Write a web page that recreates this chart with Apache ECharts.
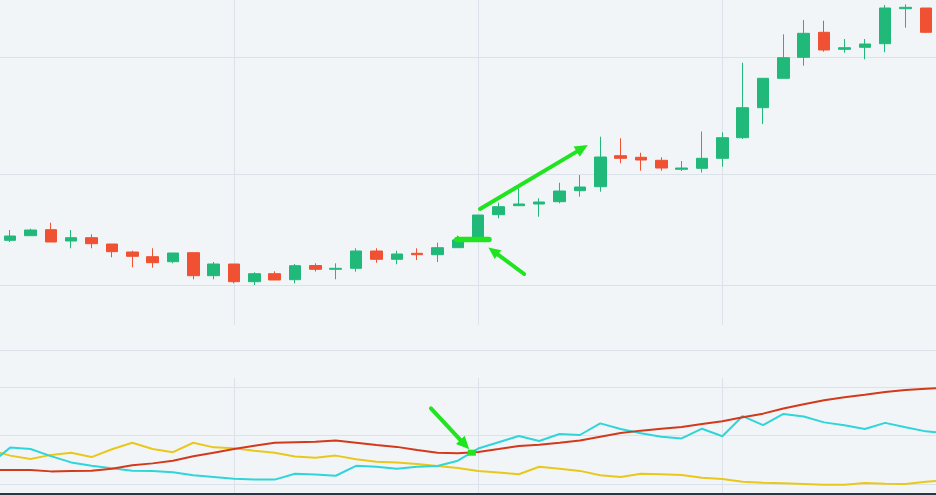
<!DOCTYPE html>
<html>
<head>
<meta charset="utf-8">
<script src="https://cdn.jsdelivr.net/npm/echarts@6.0.0/dist/echarts.min.js"></script>
<style>
html,body{margin:0;padding:0;background:#f2f5f8;}
#main{width:936px;height:495px;}
</style>
</head>
<body>
<div id="main"></div>
<script>
const days = Array.from({length: 46}, (_, i) => 'D' + (i + 1))

const opens  = [28.47, 28.93, 29.53, 28.4, 28.73, 28.1, 27.3, 26.83, 26.33, 27.23, 24.93, 26.1, 24.33, 25.13, 24.53, 25.95, 25.57, 25.67, 27.4, 26.57, 27.17, 27.03, 27.73, 28.4, 31.03, 31.93, 32.1, 32.33, 33.43, 33.83, 36.93, 36.77, 36.47, 35.57, 35.67, 36.67, 38.73, 41.73, 44.67, 46.77, 49.27, 47.57, 47.77, 48.13, 51.63, 51.7]
const closes = [28.9, 29.5, 28.3, 28.73, 28.13, 27.33, 26.87, 26.23, 27.2, 24.93, 26.1, 24.33, 25.13, 24.5, 25.93, 25.57, 25.67, 27.4, 26.57, 27.1, 27.03, 27.73, 28.5, 31.0, 31.83, 32.1, 32.3, 33.4, 33.8, 36.8, 36.67, 36.5, 35.7, 35.7, 36.67, 38.73, 41.73, 44.67, 46.73, 49.17, 47.5, 47.73, 48.1, 51.7, 51.77, 49.27]
const lows   = [28.3, 28.93, 28.3, 27.67, 27.67, 26.77, 25.77, 25.73, 26.17, 24.57, 24.57, 24.17, 24.0, 24.5, 24.17, 25.35, 24.57, 25.33, 26.23, 26.07, 26.5, 26.3, 27.73, 28.3, 30.67, 31.93, 30.83, 32.17, 32.83, 33.33, 36.17, 35.43, 35.43, 35.4, 35.25, 35.83, 38.6, 40.1, 44.67, 45.93, 47.33, 47.23, 46.57, 47.27, 49.73, 49.2]
const highs  = [29.5, 29.63, 30.23, 29.5, 29.07, 28.1, 27.43, 27.67, 27.2, 27.23, 26.3, 26.1, 25.27, 25.37, 26.1, 26.17, 26.17, 27.67, 27.67, 27.43, 27.67, 28.23, 28.93, 31.0, 32.23, 33.67, 32.67, 34.23, 35.0, 38.83, 38.67, 37.23, 36.77, 36.4, 39.35, 39.27, 46.23, 44.67, 49.07, 50.5, 50.43, 48.6, 48.6, 52.0, 52.07, 51.7]

// indicator panel: one extra point on each side (bar -1 and bar 46) so lines run to the edges
const indX = Array.from({length: 48}, (_, i) => i - 1)
const adx = [15.8, 15.8, 15.8, 15.2, 15.4, 15.5, 16.3, 17.7, 18.5, 19.6, 21.4, 22.9, 24.4, 25.8, 27.0, 27.2, 27.4, 27.9, 27.0, 26.1, 25.3, 24.0, 22.9, 22.7, 23.2, 24.4, 25.7, 26.2, 27.0, 27.9, 29.5, 31.0, 32.0, 32.8, 33.5, 34.7, 35.9, 37.5, 39.0, 41.1, 42.9, 44.5, 45.8, 46.8, 47.9, 48.8, 49.3, 49.6]
const pdi = [18.2, 25.0, 24.4, 21.5, 18.9, 17.5, 16.5, 15.5, 15.4, 14.8, 13.6, 12.9, 12.2, 11.8, 11.8, 14.2, 13.9, 13.4, 17.5, 17.1, 16.3, 17.1, 17.4, 19.6, 24.6, 27.2, 29.8, 27.7, 30.6, 30.2, 35.0, 32.7, 30.9, 29.5, 28.8, 32.8, 29.7, 38.0, 34.3, 38.9, 37.8, 35.4, 34.2, 32.7, 35.2, 33.4, 31.7, 31.0]
const mdi = [24.0, 21.7, 20.3, 22.0, 22.9, 21.1, 24.3, 27.0, 24.4, 23.1, 27.0, 25.1, 24.7, 23.7, 22.9, 21.3, 20.8, 21.7, 20.2, 19.2, 18.9, 18.2, 17.4, 16.6, 15.4, 14.7, 14.0, 17.1, 16.3, 15.4, 13.6, 12.9, 14.2, 14.0, 13.7, 12.6, 12.1, 10.9, 10.5, 10.3, 10.0, 9.7, 9.7, 10.4, 10.1, 10.0, 10.9, 11.6]

// guide lines
const priceLevels = [24.0, 35.07, 46.73]
const indLevels = [10, 30.2, 50]
const vLines = [11, 23, 35]

// green annotations: [bar position, value]
const upArrow = [[23.09, 31.6], [28.39, 38.0]]
const flatArrow = [[23.53, 28.55], [21.76, 28.55]]
const pointArrow = [[25.26, 25.1], [23.5, 27.75]]
const lowArrow = [[20.68, 41.2], [22.56, 24.3]]
const crossMark = [22.69, 22.9]

const gridColor = '#dce2e9'
const upColor = '#20b97a'
const downColor = '#f05133'
const noteColor = '#1fe41f'

const candles = days.map((d, i) => [opens[i], closes[i], lows[i], highs[i]])

const myChart = echarts.init(document.getElementById('main'))

const guides = (gi, levels) => ({
    type: 'line', xAxisIndex: gi, yAxisIndex: gi, data: [], z: 0, silent: true,
    markLine: {
        silent: true, symbol: 'none', label: {show: false}, z: 0,
        lineStyle: {color: gridColor, type: 'solid', width: 1},
        data: levels.map(v => ({yAxis: v})).concat(vLines.map(v => ({xAxis: gi == 0 ? days[v] : v})))
    }
})

const ind = (data, color) => ({
    type: 'line', xAxisIndex: 1, yAxisIndex: 1, data: data.map((v, i) => [indX[i], v]),
    showSymbol: false, smooth: false, clip: true,
    lineStyle: {color: color, width: 2}, itemStyle: {color: color}, z: 3
})

let option = {
    animation: false,
    backgroundColor: '#f2f5f8',
    grid: [
        {left: 0, right: 0, top: 0, bottom: 170},
        {left: 0, right: 0, top: 378, bottom: 0}
    ],
    xAxis: [
        {
            type: 'category', gridIndex: 0, data: days, boundaryGap: true,
            axisLabel: {show: false}, axisTick: {show: false}, splitLine: {show: false},
            axisLine: {show: true, onZero: false, lineStyle: {color: gridColor}}, offset: 25
        },
        {
            type: 'value', gridIndex: 1, min: -0.5, max: 45.5,
            axisLabel: {show: false}, axisTick: {show: false}, axisLine: {show: false}, splitLine: {show: false}
        }
    ],
    yAxis: [
        {type: 'value', gridIndex: 0, min: 20, max: 52.5, show: false},
        {type: 'value', gridIndex: 1, min: 5.46, max: 53.7, show: false}
    ],
    series: [
        guides(0, priceLevels),
        guides(1, indLevels),
        {
            type: 'candlestick', xAxisIndex: 0, yAxisIndex: 0, data: candles, barWidth: 12, z: 3,
            itemStyle: {color: upColor, color0: downColor, borderColor: upColor, borderColor0: downColor, borderWidth: 1}
        },
        ind(mdi, '#e9c81b'),
        ind(pdi, '#2fd5d8'),
        ind(adx, '#d3391b')
    ]
}
myChart.setOption(option)

// annotation shapes placed through the chart's own scales
function pt(gi, p) {
    const a = myChart.convertToPixel({gridIndex: gi}, [0, p[1]])
    const b = myChart.convertToPixel({gridIndex: gi}, [1, p[1]])
    return [a[0] + p[0] * (b[0] - a[0]), a[1]]
}
function arrow(gi, seg, w, len, half) {
    const s = pt(gi, seg[0]), e = pt(gi, seg[1])
    const dx = e[0] - s[0], dy = e[1] - s[1], l = Math.hypot(dx, dy)
    const ux = dx / l, uy = dy / l
    const bx = e[0] - ux * len, by = e[1] - uy * len
    return [
        {type: 'polyline', shape: {points: [s, [bx + ux * 2, by + uy * 2]]}, style: {stroke: noteColor, lineWidth: w, lineCap: 'round', fill: null}, z: 100},
        {type: 'polygon', shape: {points: [e, [bx - uy * half, by + ux * half], [bx + uy * half, by - ux * half]]}, style: {fill: noteColor}, z: 100}
    ]
}
const cm = pt(1, crossMark)
myChart.setOption({
    graphic: [
        ...arrow(0, upArrow, 4, 13, 6),
        ...arrow(0, flatArrow, 5.5, 6, 3.5),
        ...arrow(0, pointArrow, 4, 12, 5.5),
        ...arrow(1, lowArrow, 4, 13, 6),
        {type: 'rect', shape: {x: cm[0] - 4, y: cm[1] - 3, width: 8, height: 6}, style: {fill: noteColor}, z: 101},
        {type: 'rect', left: 0, bottom: 0, shape: {width: 936, height: 2}, style: {fill: '#2a3644'}, z: 102}
    ]
})
</script>
</body>
</html>
